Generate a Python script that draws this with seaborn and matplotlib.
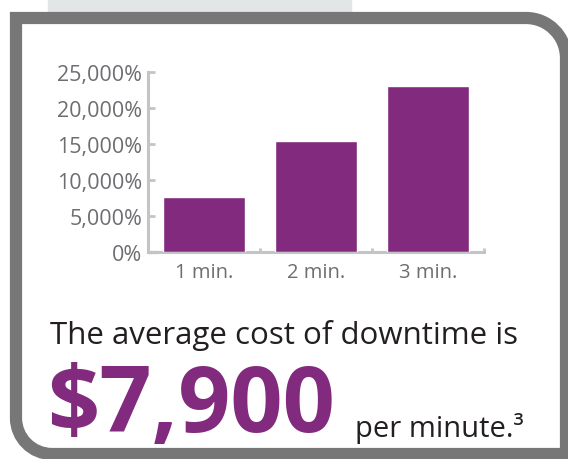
import matplotlib
matplotlib.use("Agg")
import matplotlib.pyplot as plt
import seaborn as sns
import pandas as pd
from matplotlib.path import Path
from matplotlib.patches import PathPatch, Rectangle
from matplotlib.ticker import FuncFormatter

# ---- Data ----
minutes = ["1 min.", "2 min.", "3 min."]
cost_pct = [7650, 15350, 23100]
y_ticks = [0, 5000, 10000, 15000, 20000, 25000]
headline = "The average cost of downtime is"
big_number = "$7,900"
tail = "per minute.³"

df = pd.DataFrame({"minutes": minutes, "cost": cost_pct})

PURPLE = "#822a7e"
W, H = 568, 460

sns.set_theme(style="white")
plt.rcParams['font.family'] = ['Open Sans', 'DejaVu Sans']

fig = plt.figure(figsize=(W / 100, H / 100), dpi=100)

def fx(x):
    return x / W

def fy(y):
    return 1 - y / H

# ---- Frame: light strip + rounded grey border ----
fig.patches.append(Rectangle((fx(48), fy(13)), fx(351 - 48), 13 / H,
                             transform=fig.transFigure, color="#e2e6e7", zorder=0))
k = 0.5523
r1, r2 = 40, 36
L, T, R, B = 16, 19, 566, 455
verts = [
    (R, B + 40),
    (R, T + r1),
    (R, T + r1 - k * r1), (R - r1 + k * r1, T), (R - r1, T),
    (L, T),
    (L, B - r2),
    (L, B - r2 + k * r2), (L + r2 - k * r2, B), (L + r2, B),
    (R + 20, B),
]
codes = [Path.MOVETO, Path.LINETO, Path.CURVE4, Path.CURVE4, Path.CURVE4,
         Path.LINETO, Path.LINETO, Path.CURVE4, Path.CURVE4, Path.CURVE4,
         Path.LINETO]
path = Path([(fx(x), fy(y)) for x, y in verts], codes)
fig.patches.append(PathPatch(path, transform=fig.transFigure, fill=False,
                             edgecolor="#777777", linewidth=8.8,
                             capstyle="butt", joinstyle="miter", zorder=1))

# ---- Bar chart ----
ax = fig.add_axes([fx(148), fy(253), fx(484 - 148), (253 - 73) / H])
sns.barplot(data=df, x="minutes", y="cost", color=PURPLE, saturation=1,
            width=0.73, ax=ax)
ax.set_xlim(-0.5, 2.5)
ax.set_ylim(0, 25000)
ax.set_yticks(y_ticks)
ax.yaxis.set_major_formatter(FuncFormatter(lambda v, p: f"{int(v):,}%"))
ax.set_xlabel("")
ax.set_ylabel("")
ax.patch.set_alpha(0)
ax.set_axisbelow(False)

for side in ["top", "right"]:
    ax.spines[side].set_visible(False)
for side in ["left", "bottom"]:
    ax.spines[side].set_color("#c4c4c4")
    ax.spines[side].set_linewidth(2.2)
    ax.spines[side].set_zorder(0.5)

ax.tick_params(axis="y", direction="in", length=5, width=2, color="#c4c4c4",
               labelsize=15.5, labelcolor="#6d6e71", pad=4, left=True)
ax.tick_params(axis="x", which="major", length=0, labelsize=14.5,
               labelcolor="#6d6e71", pad=7)
ax.set_xticks([0.5, 1.5, 2.5], minor=True)
ax.tick_params(axis="x", which="minor", direction="in", length=3, width=2,
               color="#c4c4c4", bottom=True)
zero_tick = ax.yaxis.get_major_ticks()[0]
zero_tick.tick1line.set_color("black")
zero_tick.tick1line.set_markeredgewidth(2.4)
zero_tick.tick1line.set_markersize(7)

# ---- Text ----
fig.text(fx(50), fy(344), headline, fontsize=22.5, color="#231f20",
         ha="left", va="baseline")
fig.text(fx(47), fy(432), big_number, fontsize=66, fontweight="bold",
         color=PURPLE, ha="left", va="baseline")
fig.text(fx(355), fy(437), tail, fontsize=21, color="#231f20",
         ha="left", va="baseline")

plt.savefig("out.png", dpi=100)
